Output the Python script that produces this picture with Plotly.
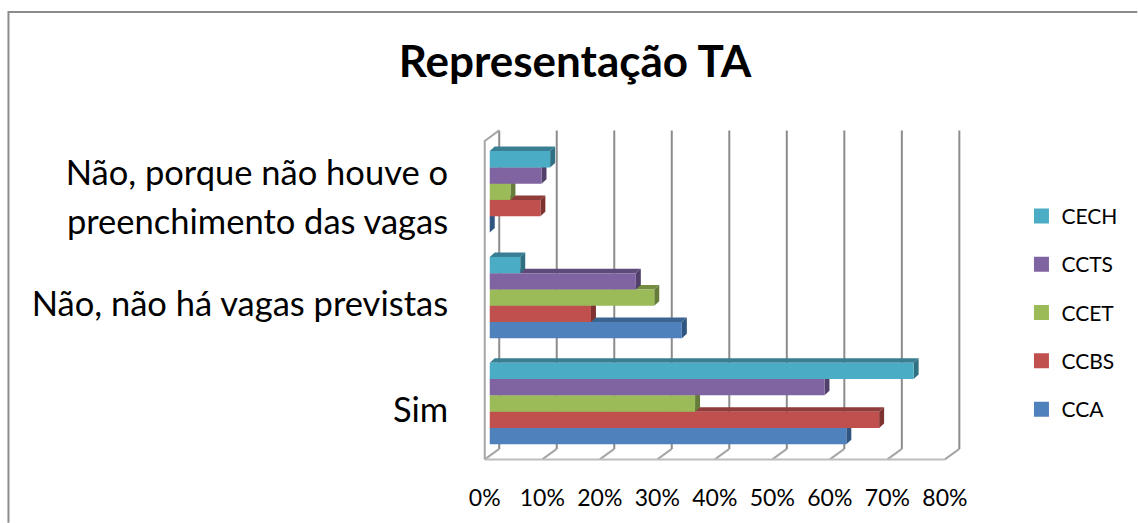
import plotly.graph_objects as go

TITLE = "Representação TA"
SERIES = ["CCA", "CCBS", "CCET", "CCTS", "CECH"]
# values per series, in order: Sim / Não, não há vagas / Não, porque não houve
CCA = [62.0, 33.4, 0.0]
CCBS = [67.7, 17.6, 8.8]
CCET = [35.7, 28.6, 3.6]
CCTS = [58.2, 25.4, 9.0]
CECH = [73.7, 5.3, 10.5]
VALUES = [CCA, CCBS, CCET, CCTS, CECH]
FRONT = ["#4F81BD", "#C0504D", "#9BBB59", "#8064A2", "#4BACC6"]
TOPS = ["#3B6590", "#8F3C3A", "#748D43", "#5F4B79", "#387F93"]
SIDES = ["#2F5580", "#7F3331", "#667C3A", "#51406A", "#2F7082"]

AXIS_LABELS = ["Sim", "Não, não há vagas previstas", "preenchimento das vagas", "Não, porque não houve o"]
AXIS_LABEL_POS = [-0.061, 0.939, 1.712, 2.175]
X_TICKS = [0, 10, 20, 30, 40, 50, 60, 70, 80]

W, H = 1138, 523
PX_PER_X, PX_PER_Y = 5.76, 106
X_RANGE = [-1, 83.5]
Y_RANGE = [-0.6, 2.65]
LEFT = 484.5 + X_RANGE[0] * PX_PER_X
RIGHT = 484.5 + X_RANGE[1] * PX_PER_X
TOP = 403.5 - Y_RANGE[1] * PX_PER_Y
BOTTOM = 403.5 - Y_RANGE[0] * PX_PER_Y

BARGAP = 0.231
BAR_H = (1 - BARGAP) / len(SERIES)
DX, DY = 5 / PX_PER_X, 4.5 / PX_PER_Y
WALL_DX, WALL_DY = 14.5 / PX_PER_X, 10.5 / PX_PER_Y
FLOOR_Y, WALL_TOP = -0.528, 2.58

fig = go.Figure()

def lines(xs, ys, color, width):
    fig.add_trace(go.Scatter(x=xs, y=ys, mode="lines", line=dict(color=color, width=width),
                             showlegend=False, hoverinfo="skip", cliponaxis=False))

gx, gy, dx_, dy_ = [], [], [], []
for t in X_TICKS:
    gx += [t + WALL_DX, t + WALL_DX, None]
    gy += [FLOOR_Y + WALL_DY, WALL_TOP, None]
    dx_ += [t, t + WALL_DX, None]
    dy_ += [FLOOR_Y, FLOOR_Y + WALL_DY, None]
lines(gx, gy, "#8C8C8C", 2)
lines(dx_, dy_, "#A6A6A6", 2)
lines([X_TICKS[0], X_TICKS[-1]], [FLOOR_Y, FLOOR_Y], "#BDBDBD", 2)
lines([0, 0, WALL_DX], [FLOOR_Y, WALL_TOP - WALL_DY, WALL_TOP], "#A6A6A6", 2)

# 3D faces computed from the values; the bars sit on an overlay subplot above them
for s, vals in enumerate(VALUES):
    for cat, v in enumerate(vals):
        bot = cat - (1 - BARGAP) / 2 + s * BAR_H
        top = bot + BAR_H
        fig.add_trace(go.Scatter(
            x=[DX, DX + DX, DX + v + DX, DX + v, DX], y=[top, top + DY, top + DY, top, top],
            mode="lines", fill="toself", fillcolor=TOPS[s], line=dict(width=0),
            showlegend=False, hoverinfo="skip"))
        fig.add_trace(go.Scatter(
            x=[DX + v, DX + v + DX, DX + v + DX, DX + v, DX + v], y=[top, top + DY, bot + DY, bot, top],
            mode="lines", fill="toself", fillcolor=SIDES[s], line=dict(width=0),
            showlegend=False, hoverinfo="skip"))

for s, vals in enumerate(VALUES):
    fig.add_trace(go.Bar(name=SERIES[s], y=[0, 1, 2], x=vals, base=[DX] * 3, orientation="h",
                         marker=dict(color=FRONT[s], line=dict(width=0)),
                         xaxis="x2", yaxis="y2", showlegend=False))
    # legend key with the square size of the reference
    fig.add_trace(go.Scatter(name=SERIES[s], x=[None], y=[None], mode="markers",
                             marker=dict(symbol="square", size=15, color=FRONT[s]),
                             legendgroup=SERIES[s], legendrank=len(SERIES) - s))

def px(x):
    return (x - LEFT) / (RIGHT - LEFT)

def py(y):
    return (BOTTOM - y) / (BOTTOM - TOP)

FONT = "Lato, Carlito, sans-serif"
frame = dict(type="path", xref="paper", yref="paper", line=dict(color="#8C8C8C", width=2),
             path=f"M {px(7.5)},{py(523)} L {px(7.5)},{py(11.5)} L {px(1138)},{py(11.5)}")

fig.update_layout(
    width=W, height=H, autosize=False,
    margin=dict(l=LEFT, r=W - RIGHT, t=TOP, b=H - BOTTOM, pad=0),
    paper_bgcolor="white", plot_bgcolor="white",
    font=dict(family=FONT, color="black"),
    title=dict(text=f"<b>{TITLE}</b>", x=575 / W, xanchor="center", xref="container",
               y=1 - 62 / H, yanchor="middle", yref="container", font=dict(size=44, family=FONT)),
    barmode="group", bargap=BARGAP, bargroupgap=0,
    xaxis=dict(range=X_RANGE, tickmode="array", tickvals=X_TICKS, ticktext=[f"{t}%" for t in X_TICKS],
               showgrid=False, zeroline=False, showline=False, ticks="outside", ticklen=10,
               tickcolor="rgba(0,0,0,0)", tickfont=dict(size=23), tickangle=0),
    yaxis=dict(range=Y_RANGE, tickmode="array", tickvals=AXIS_LABEL_POS, ticktext=AXIS_LABELS,
               showgrid=False, zeroline=False, showline=False, ticks="outside", ticklen=23,
               tickcolor="rgba(0,0,0,0)", tickfont=dict(size=34.5)),
    xaxis2=dict(range=X_RANGE, overlaying="x", visible=False),
    yaxis2=dict(range=Y_RANGE, overlaying="y", visible=False),
    legend=dict(x=px(1022), xanchor="left", y=py(195.5), yanchor="top", traceorder="grouped",
                tracegroupgap=18, font=dict(size=21), bgcolor="rgba(0,0,0,0)"),
    shapes=[frame],
)
fig.write_html("out.html", config={"displayModeBar": False},
               post_script="document.body.style.margin='0';document.documentElement.style.overflow='hidden';")
